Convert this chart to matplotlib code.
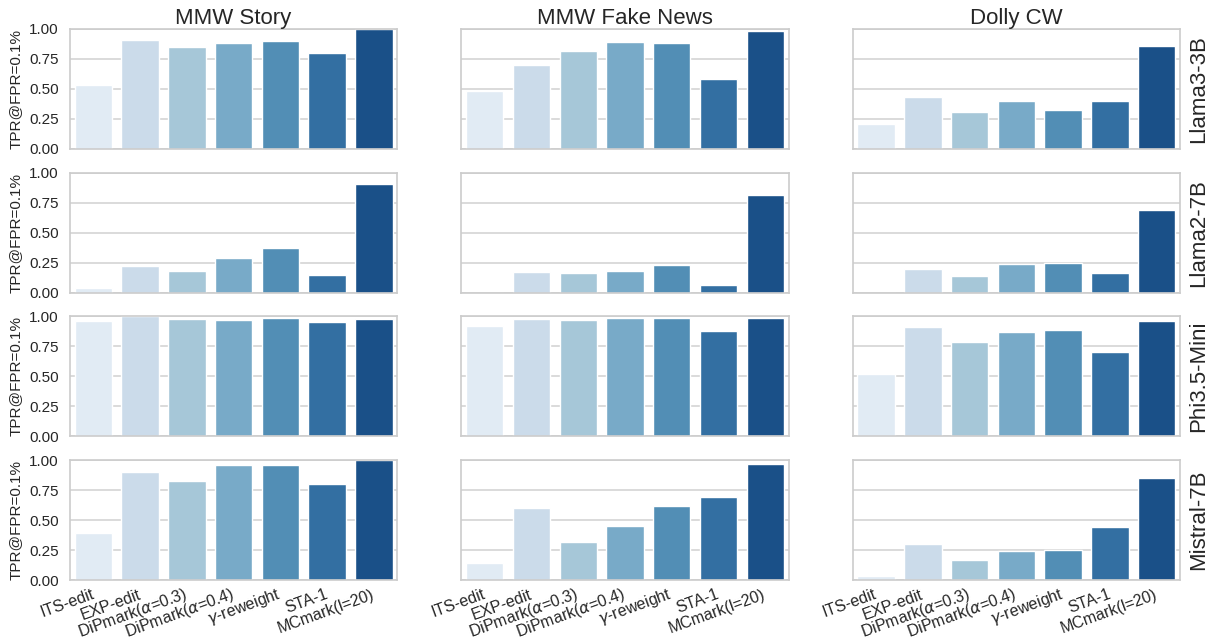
import matplotlib
matplotlib.use("Agg")
import matplotlib.pyplot as plt
import seaborn as sns
import numpy as np

methods = ["ITS-edit", "EXP-edit", r"DiPmark($\alpha$=0.3)", r"DiPmark($\alpha$=0.4)",
           r"$\gamma$-reweight", "STA-1", "MCmark(l=20)"]
datasets = ["MMW Story", "MMW Fake News", "Dolly CW"]
models = ["Llama3-3B", "Llama2-7B", "Phi3.5-Mini", "Mistral-7B"]

llama3_story = [0.53, 0.91, 0.85, 0.88, 0.90, 0.80, 1.00]
llama3_fake = [0.48, 0.70, 0.82, 0.89, 0.88, 0.58, 0.98]
llama3_dolly = [0.21, 0.43, 0.31, 0.40, 0.32, 0.40, 0.86]

llama2_story = [0.04, 0.22, 0.18, 0.29, 0.37, 0.15, 0.91]
llama2_fake = [0.00, 0.17, 0.16, 0.18, 0.23, 0.06, 0.81]
llama2_dolly = [0.00, 0.20, 0.14, 0.24, 0.25, 0.16, 0.69]

phi_story = [0.96, 1.00, 0.98, 0.97, 0.99, 0.95, 0.98]
phi_fake = [0.92, 0.98, 0.97, 0.99, 0.99, 0.88, 0.99]
phi_dolly = [0.52, 0.91, 0.79, 0.87, 0.89, 0.70, 0.96]

mistral_story = [0.39, 0.90, 0.83, 0.96, 0.96, 0.80, 1.00]
mistral_fake = [0.14, 0.60, 0.32, 0.45, 0.62, 0.69, 0.97]
mistral_dolly = [0.03, 0.30, 0.17, 0.24, 0.25, 0.44, 0.85]

table = [
    [llama3_story, llama3_fake, llama3_dolly],
    [llama2_story, llama2_fake, llama2_dolly],
    [phi_story, phi_fake, phi_dolly],
    [mistral_story, mistral_fake, mistral_dolly],
]

sns.set_theme(style="whitegrid")
plt.rcParams['font.family'] = ['Liberation Sans', 'DejaVu Sans']
plt.rcParams['mathtext.fontset'] = 'dejavusans'

colors = [sns.desaturate(c, 0.75) for c in sns.color_palette("Blues", len(methods))]

fig, axes = plt.subplots(4, 3, figsize=(12.1, 6.41), dpi=100, sharey=True, sharex=True)
fig.subplots_adjust(left=70/1210, right=1180/1210, top=1-29/641, bottom=1-580/641,
                    wspace=0.196, hspace=0.2)

x = np.arange(len(methods))
for i, model in enumerate(models):
    for j, ds in enumerate(datasets):
        ax = axes[i, j]
        ax.bar(x, table[i][j], width=0.8, color=colors, edgecolor='white', linewidth=1, zorder=2)
        ax.set_xlim(-0.5, len(methods) - 0.5)
        ax.set_ylim(0, 1.0)
        ax.set_yticks([0, 0.25, 0.5, 0.75, 1.0])
        ax.set_yticklabels(["0.00", "0.25", "0.50", "0.75", "1.00"])
        ax.grid(axis='x', visible=False)
        ax.grid(axis='y', color='#d4d4d4', linewidth=1.2, zorder=0)
        ax.set_axisbelow(True)
        for s in ax.spines.values():
            s.set_color('#cccccc')
            s.set_linewidth(1.2)
        ax.tick_params(axis='both', labelsize=11, colors='#262626', pad=2)
        if i == 0:
            ax.set_title(ds, fontsize=16, pad=3)
        if j == 0:
            ax.set_ylabel("TPR@FPR=0.1%", fontsize=11, labelpad=5)
        if j == 2:
            ax.yaxis.set_label_position('right')
            ax.set_ylabel(model, fontsize=16, labelpad=6, rotation=90)
        if i == 3:
            ax.set_xticks(x)
            ax.set_xticklabels(methods, rotation=20, ha='right', va='center',
                               rotation_mode='anchor', fontsize=11.5)
            ax.tick_params(axis='x', pad=4)

fig.savefig("out.png", dpi=100)
